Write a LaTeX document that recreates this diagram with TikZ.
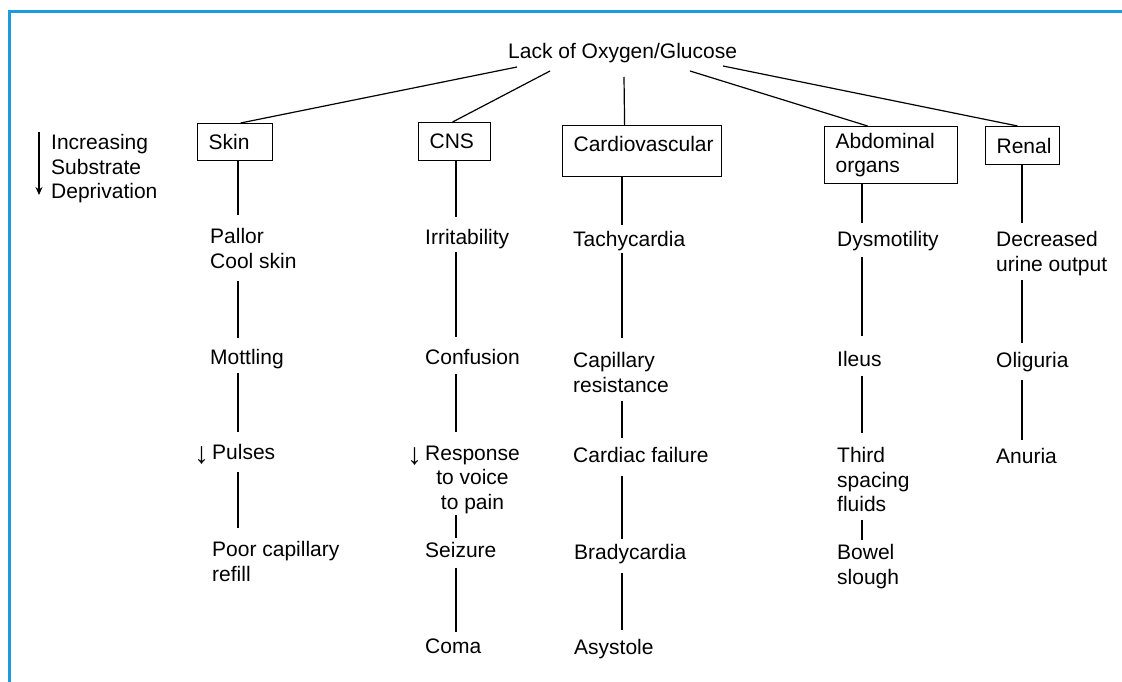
\documentclass[tikz,border=0pt]{standalone}
\usepackage{fontspec}
\setmainfont{Liberation Sans}
\usetikzlibrary{calc,arrows.meta}
\definecolor{frameblue}{HTML}{1E9BE0}
\newcommand{\lessmark}{\llap{\smash{\raisebox{-4pt}{\fontsize{30}{30}\selectfont ↓}}\hspace{3pt}}}
\begin{document}
\begin{tikzpicture}[x=1pt,y=-1pt,
  every node/.style={font=\fontsize{21}{24.5}\selectfont},
  item/.style={anchor=north west, inner sep=0pt, align=left},
  organ/.style={anchor=north west, draw, line width=1.2pt, inner xsep=11pt,
                inner ysep=0pt, text width=#1, align=left},
  branch/.style={line width=1.2pt},
  link/.style 2 args={line width=1.2pt, shorten <=#1, shorten >=#2},
]
\useasboundingbox (0,0) rectangle (1122,682);

% frame
\draw[frameblue, line width=3pt] (1122,12) -- (9,12) -- (9,682);

% root
\node[item] (top) at (508,43) {Lack of Oxygen/Glucose};

% organ systems
\node[organ=53pt, minimum height=37pt] (skin) at (197,123) {Skin};
\node[organ=50pt, minimum height=38pt] (cns) at (418,122) {CNS};
\node[organ=137pt, minimum height=51pt, text height=15pt, text depth=15pt] (cardio) at (562,125) {Cardiovascular};
\node[organ=111pt, minimum height=57pt] (abd) at (824,126) {Abdominal\\organs};
\node[organ=52pt, minimum height=38pt] (renal) at (985,126) {Renal};

% branches from the root
\coordinate (o1) at (517,67);
\coordinate (o2) at (550,71);
\coordinate (o3) at (624,77);
\coordinate (o4) at (690,71);
\coordinate (o5) at (723,66);
\draw[branch] (o1) -- ([xshift=5.5pt]skin.north);
\draw[branch] (o2) -- ([xshift=-2pt]cns.north);
\draw[branch] (o3) -- ([xshift=-17.5pt]cardio.north);
\draw[branch] (o4) -- ([xshift=-23.5pt]abd.north);
\draw[branch] (o5) -- ([xshift=-5pt]renal.north);

% legend
\node[item] (legend) at (51,134.5) {Increasing\\Substrate\\Deprivation};
\coordinate (la) at (39,132);
\coordinate (lb) at (39,195);
\draw[line width=1.2pt, -{Stealth[length=8pt,width=7pt]}] (la) -- (lb);

% column axes
\coordinate (c1) at (238,0);
\coordinate (c2) at (456,0);
\coordinate (c3) at (622,0);
\coordinate (c4) at (862,0);
\coordinate (c5) at (1022,0);

% skin
\node[item] (pallor) at (210,228.5) {Pallor\\Cool skin};
\node[item] (mottling) at (210,349.5) {Mottling};
\node[item] (pulses) at (212,444.5) {\lessmark Pulses};
\node[item] (refill) at (212,541.5) {Poor capillary\\refill};
\draw[link={0pt}{13.5pt}] (skin.south -| c1) -- (pallor.north -| c1);
\draw[link={11.7pt}{11.5pt}] (pallor.south -| c1) -- (mottling.north -| c1);
\draw[link={3.8pt}{12.5pt}] (mottling.south -| c1) -- (pulses.north -| c1);
\draw[link={12pt}{13.5pt}] (pulses.south -| c1) -- (refill.north -| c1);

% central nervous system
\node[item] (irrit) at (425,229.5) {Irritability};
\node[item] (confusion) at (425,349.5) {Confusion};
\node[item, align=center] (response) at (425,445.5) {\lessmark Response\\to voice\\to pain};
\node[item] (seizure) at (425,542.5) {Seizure};
\node[item] (coma) at (425,638.5) {Coma};
\draw[link={0pt}{12.5pt}] (cns.south -| c2) -- (irrit.north -| c2);
\draw[link={2.8pt}{12.5pt}] (irrit.south -| c2) -- (confusion.north -| c2);
\draw[link={8.2pt}{13.5pt}] (confusion.south -| c2) -- (response.north -| c2);
\draw[link={0.8pt}{4.5pt}] (response.south -| c2) -- (seizure.north -| c2);
\draw[link={9.2pt}{6.5pt}] (seizure.south -| c2) -- (coma.north -| c2);

% cardiovascular
\node[item] (tachy) at (573,231.5) {Tachycardia};
\node[item] (capres) at (573,352.5) {Capillary\\resistance};
\node[item] (cfail) at (573,447.5) {Cardiac failure};
\node[item] (brady) at (574,544.5) {Bradycardia};
\node[item] (asys) at (574,639.5) {Asystole};
\draw[link={0pt}{6.5pt}] (cardio.south -| c3) -- (tachy.north -| c3);
\draw[link={1.8pt}{14.5pt}] (tachy.south -| c3) -- (capres.north -| c3);
\draw[link={7.7pt}{9.5pt}] (capres.south -| c3) -- (cfail.north -| c3);
\draw[link={12.2pt}{5.5pt}] (cfail.south -| c3) -- (brady.north -| c3);
\draw[link={8.8pt}{9.5pt}] (brady.south -| c3) -- (asys.north -| c3);

% abdominal organs
\node[item] (dysmot) at (837,231.5) {Dysmotility};
\node[item] (ileus) at (837,351.5) {Ileus};
\node[item] (third) at (837,447.5) {Third\\spacing\\fluids};
\node[item] (bowel) at (837,544.5) {Bowel\\slough};
\draw[link={0pt}{8.5pt}] (abd.south -| c4) -- (dysmot.north -| c4);
\draw[link={5.8pt}{15.5pt}] (dysmot.south -| c4) -- (ileus.north -| c4);
\draw[link={8.2pt}{14.5pt}] (ileus.south -| c4) -- (third.north -| c4);
\draw[link={7.2pt}{4.5pt}] (third.south -| c4) -- (bowel.north -| c4);

% renal
\node[item] (decr) at (996,231.5) {Decreased\\urine output};
\node[item] (olig) at (996,352.5) {Oliguria};
\node[item] (anuria) at (996,448.5) {Anuria};
\draw[link={0pt}{8.5pt}] (renal.south -| c5) -- (decr.north -| c5);
\draw[link={4.3pt}{9.5pt}] (decr.south -| c5) -- (olig.north -| c5);
\draw[link={7.8pt}{8.5pt}] (olig.south -| c5) -- (anuria.north -| c5);
\end{tikzpicture}
\end{document}
